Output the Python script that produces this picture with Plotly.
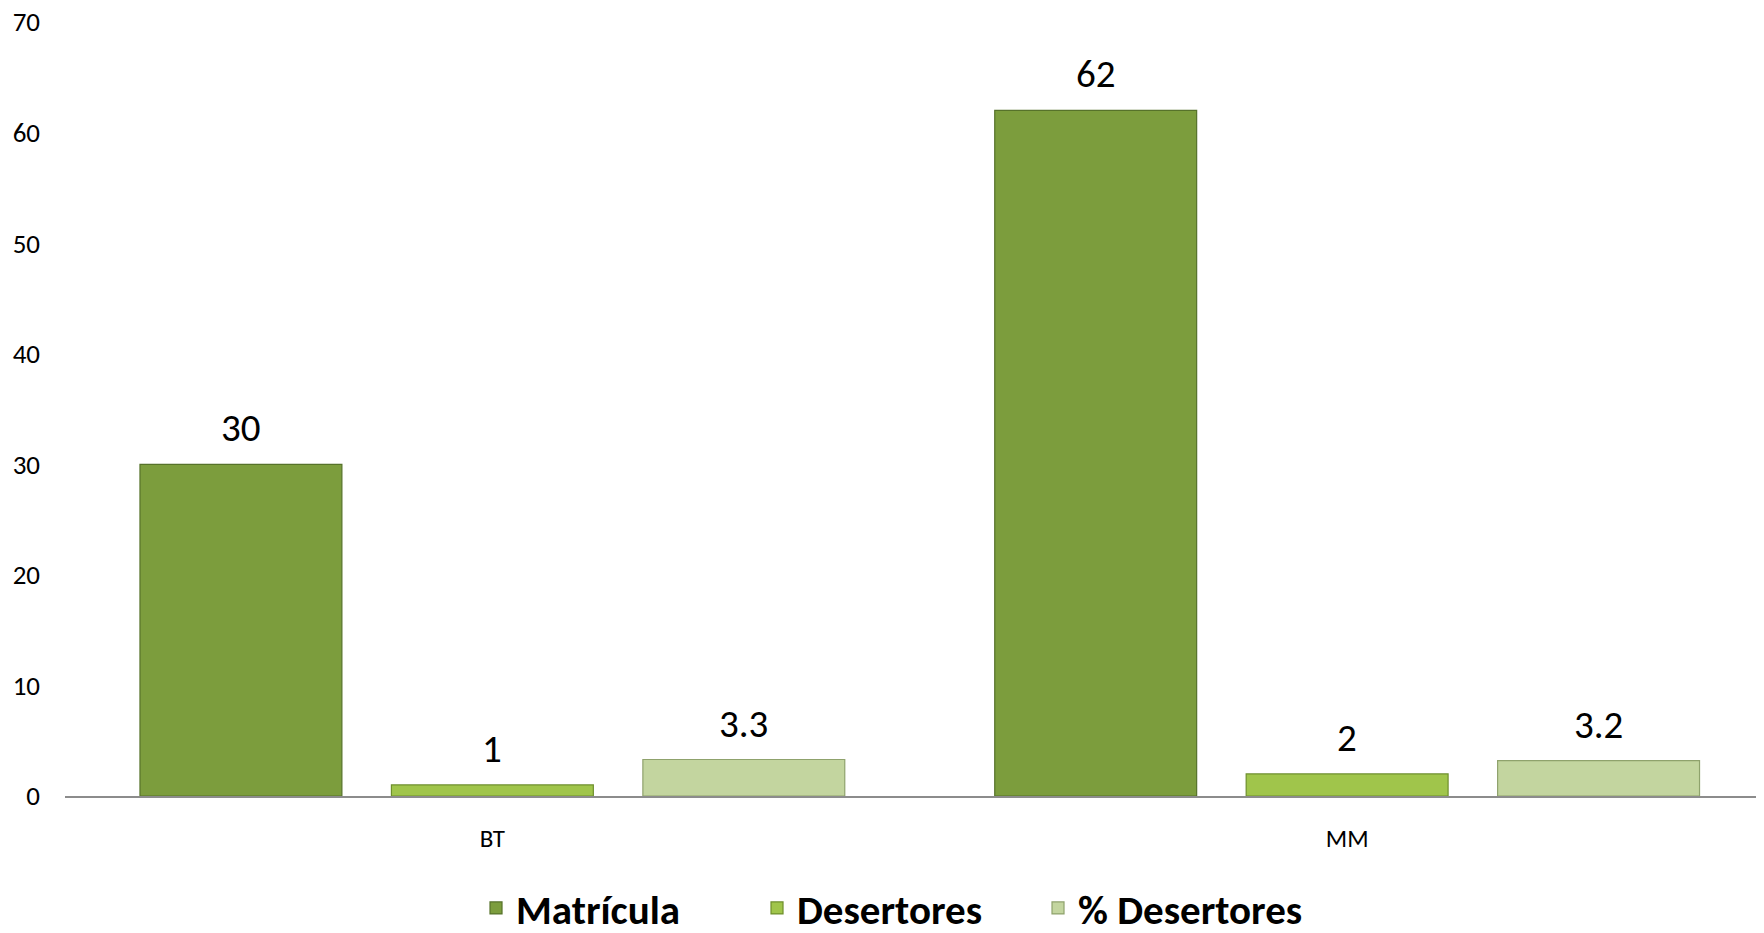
import plotly.graph_objects as go

categories = ["BT", "MM"]
series_names = ["Matrícula", "Desertores", "% Desertores"]
matricula = [30, 62]
desertores = [1, 2]
pct_desertores = [3.3, 3.2]
label_texts = [["30", "62"], ["1", "2"], ["3.3", "3.2"]]
y_ticks = [0, 10, 20, 30, 40, 50, 60, 70]

series_values = [matricula, desertores, pct_desertores]
colors = ["#7C9D3D", "#A0C54B", "#C3D59F"]
edge_colors = ["#56722A", "#6E8F2C", "#8FA26C"]

FONT = "Carlito, Calibri, Lato, sans-serif"
BARGAP = 0.1175
BARGROUPGAP = 0.197

fig = go.Figure()
for name, vals, col, ec in zip(series_names, series_values, colors, edge_colors):
    fig.add_trace(go.Bar(
        name=name, x=categories, y=vals,
        marker=dict(color=col, line=dict(color=ec, width=1.2)),
        hoverinfo="x+y+name",
    ))

# data labels above each bar, positioned from the grouped-bar layout parameters
n = len(series_names)
slot = (1 - BARGAP) / n
for i, (vals, texts) in enumerate(zip(series_values, label_texts)):
    off = (i - (n - 1) / 2) * slot
    for ci, (v, t) in enumerate(zip(vals, texts)):
        fig.add_annotation(
            x=ci + off, y=v, xref="x", yref="y", text=t, showarrow=False,
            yanchor="bottom", yshift=11,
            font=dict(family=FONT, size=39, color="#000000"),
        )

fig.update_layout(
    width=1756, height=925,
    barmode="group", bargap=BARGAP, bargroupgap=BARGROUPGAP,
    plot_bgcolor="white", paper_bgcolor="white",
    margin=dict(l=57, r=0, t=13.5, b=137, autoexpand=False),
    font=dict(family=FONT, color="#000000"),
    showlegend=True,
    legend=dict(
        orientation="h", x=0.49, xanchor="center", y=-0.145, yanchor="middle",
        font=dict(family=FONT, size=41, color="#000000", weight="bold"),
        traceorder="normal", entrywidth=236, entrywidthmode="pixels",
    ),
    xaxis=dict(
        type="category", range=[-0.5, 1.4877],
        showline=True, linecolor="#8C8C8C", linewidth=2,
        showgrid=False, ticks="", ticklabelstandoff=19,
        tickfont=dict(family=FONT, size=25, color="#000000"),
        zeroline=False,
    ),
    yaxis=dict(
        range=[0, 70], tickvals=y_ticks,
        showline=False, showgrid=False, zeroline=False, ticks="",
        ticklabelstandoff=24, ticklabeloverflow="allow",
        tickfont=dict(family=FONT, size=27, color="#000000"),
    ),
)

fig.write_html("out.html")
